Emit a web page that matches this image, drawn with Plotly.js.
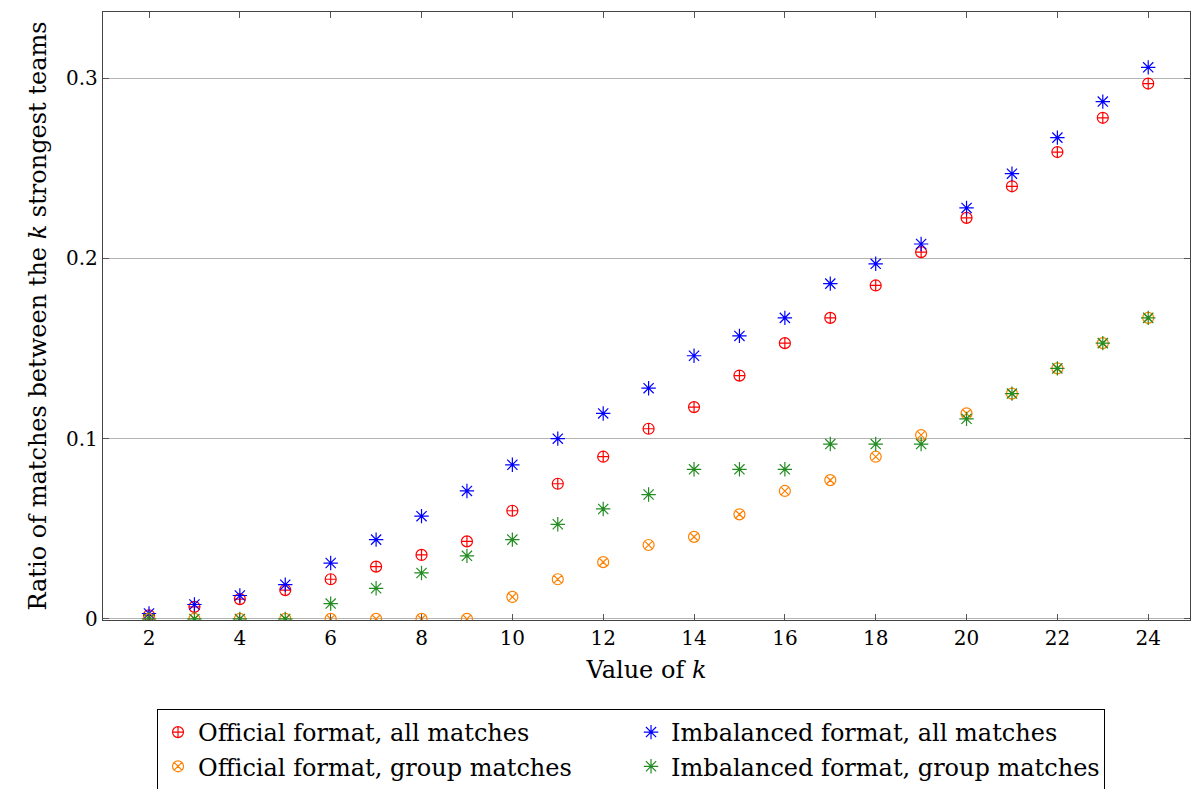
<!DOCTYPE html>
<html><head><meta charset="utf-8">
<script src="https://cdn.plot.ly/plotly-3.0.1.min.js"></script>
<style>html,body{margin:0;padding:0;background:#fff}#chart{width:1192px;height:789px}</style>
</head><body><div id="chart"></div>
<script>
const k = [2,3,4,5,6,7,8,9,10,11,12,13,14,15,16,17,18,19,20,21,22,23,24];
const officialAll = [0.002,0.0067,0.011,0.016,0.022,0.029,0.0355,0.043,0.060,0.075,0.090,0.1055,0.1175,0.135,0.153,0.167,0.185,0.2035,0.2225,0.240,0.259,0.278,0.297];
const imbalancedAll = [0.003,0.008,0.013,0.019,0.031,0.044,0.057,0.071,0.0855,0.100,0.114,0.128,0.146,0.157,0.167,0.186,0.197,0.208,0.228,0.247,0.267,0.287,0.306];
const officialGroup = [0,0,0,0,0,0,0,0,0.0122,0.022,0.0315,0.041,0.0455,0.058,0.071,0.077,0.090,0.102,0.114,0.125,0.139,0.153,0.167];
const imbalancedGroup = [0,0,0,0,0.0085,0.017,0.0255,0.035,0.044,0.0525,0.061,0.069,0.083,0.083,0.083,0.097,0.097,0.097,0.111,0.125,0.139,0.153,0.167];
const names = ["Official format, all matches","Imbalanced format, all matches","Official format, group matches","Imbalanced format, group matches"];

const font = "DejaVu Serif, serif";
function tr(y, name, color, symbol, size){
  return {x:k, y:y, name:name, type:"scatter", mode:"markers",
    marker:{symbol:symbol, size:size, color:color, line:{color:color, width:1.2}}};
}
const data = [
  tr(officialAll, names[0], "#ff0000", "circle-cross-open", 11),
  tr(imbalancedAll, names[1], "#0000ff", "asterisk-open", 12),
  tr(officialGroup, names[2], "#ff8000", "circle-x-open", 11),
  tr(imbalancedGroup, names[3], "#228b22", "asterisk-open", 12)
];
const layout = {
  width:1192, height:789,
  margin:{l:103, r:2, t:12, b:169},
  paper_bgcolor:"#fff", plot_bgcolor:"#fff",
  font:{family:font, size:20, color:"#000"},
  showlegend:true,
  xaxis:{range:[0.987,24.92], tickvals:[2,4,6,8,10,12,14,16,18,20,22,24],
    ticks:"inside", ticklen:6, tickcolor:"#555", showgrid:false, zeroline:false,
    showline:true, linecolor:"#444", linewidth:1.2, mirror:"allticks",
    title:{text:"Value of <i>k</i>", font:{size:24}, standoff:12},
    tickfont:{size:20}},
  yaxis:{range:[-0.0006,0.3367], tickvals:[0,0.1,0.2,0.3], ticktext:["0","0.1","0.2","0.3"],
    ticks:"inside", ticklen:6, tickcolor:"#555", showgrid:true, gridcolor:"#b3b3b3", gridwidth:1,
    zeroline:false, showline:true, linecolor:"#444", linewidth:1.2, mirror:"allticks",
    title:{text:"Ratio of matches between the <i>k</i> strongest teams", font:{size:24}, standoff:12},
    tickfont:{size:20}},
  legend:{orientation:"h", x:0.0497, xanchor:"left", yref:"container", y:0.1014, yanchor:"top",
    entrywidth:428, entrywidthmode:"pixels", bordercolor:"#000", borderwidth:1,
    bgcolor:"#fff", font:{size:24}, itemwidth:30, tracegroupgap:0}
};
Plotly.newPlot("chart", data, layout, {displayModeBar:false, staticPlot:true});
</script></body></html>
